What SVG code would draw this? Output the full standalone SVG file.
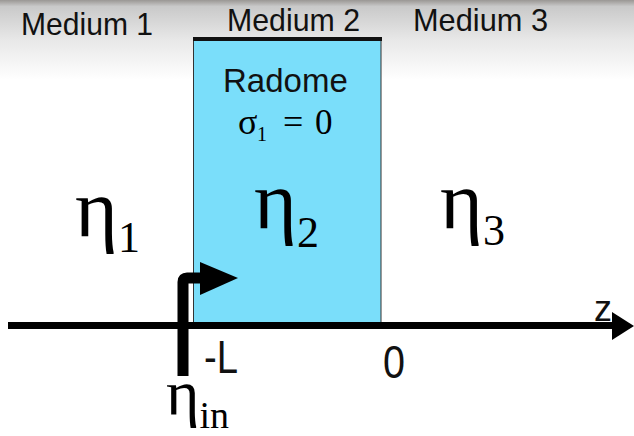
<svg xmlns="http://www.w3.org/2000/svg" width="634" height="436" viewBox="0 0 634 436">
<defs>
<linearGradient id="bg" x1="0" y1="0" x2="0" y2="1">
<stop offset="0" stop-color="#9a9794"/>
<stop offset="0.08" stop-color="#c9c9c9"/>
<stop offset="0.5" stop-color="#e8e8e8"/>
<stop offset="1" stop-color="#ffffff"/>
</linearGradient>
<style>
.sans{font-family:"Liberation Sans",Arial,sans-serif;fill:#111}
.serif{font-family:"Liberation Serif","Times New Roman",serif;fill:#000}
</style>
</defs>
<rect width="634" height="436" fill="#fff"/>
<rect width="634" height="80" fill="url(#bg)"/>
<g id="labels">
<text class="sans" x="21" y="35" font-size="32" textLength="132" lengthAdjust="spacingAndGlyphs">Medium 1</text>
<text class="sans" x="227" y="31" font-size="32" textLength="133" lengthAdjust="spacingAndGlyphs">Medium 2</text>
<text class="sans" x="413" y="31" font-size="32" textLength="135" lengthAdjust="spacingAndGlyphs">Medium 3</text>
</g>
<g id="radome">
<rect x="193.5" y="39" width="187.5" height="286" fill="#7adefa" stroke="#333" stroke-width="1"/>
<line x1="193" y1="39" x2="382" y2="39" stroke="#111" stroke-width="4"/>
<text class="sans" x="223" y="92" font-size="33">Radome</text>
<text class="serif" x="238" y="134" font-size="36">σ</text>
<text class="serif" x="257" y="141" font-size="20">1</text>
<text class="serif" x="283" y="134" font-size="36">=</text>
<text class="serif" x="315" y="134" font-size="35">0</text>
<text class="serif" x="254" y="228" font-size="82">η<tspan font-size="44" dy="19">2</tspan></text>
</g>
<g id="medium1">
<text class="serif" x="75" y="236" font-size="82">η<tspan font-size="44" dy="16">1</tspan></text>
</g>
<g id="medium3">
<text class="serif" x="440" y="228" font-size="82">η<tspan font-size="44" dy="17">3</tspan></text>
</g>
<g id="connectors">
<line x1="8" y1="325.5" x2="615" y2="325.5" stroke="#000" stroke-width="7"/>
<polygon points="612,312 634,326 612,340" fill="#000"/>
<path d="M183,376 V282 Q183,278 187,278 H205" fill="none" stroke="#000" stroke-width="11"/>
<polygon points="200,262 238,278 200,295" fill="#000"/>
</g>
<g id="axis-labels">
<text class="sans" x="594" y="321" font-size="36">z</text>
<text class="sans" x="204" y="373" font-size="46" textLength="34" lengthAdjust="spacingAndGlyphs">-L</text>
<text class="sans" x="383" y="378" font-size="46" textLength="22" lengthAdjust="spacingAndGlyphs">0</text>
<text class="serif" x="166" y="414" font-size="64">η<tspan font-size="38" dy="14">in</tspan></text>
</g>
</svg>
